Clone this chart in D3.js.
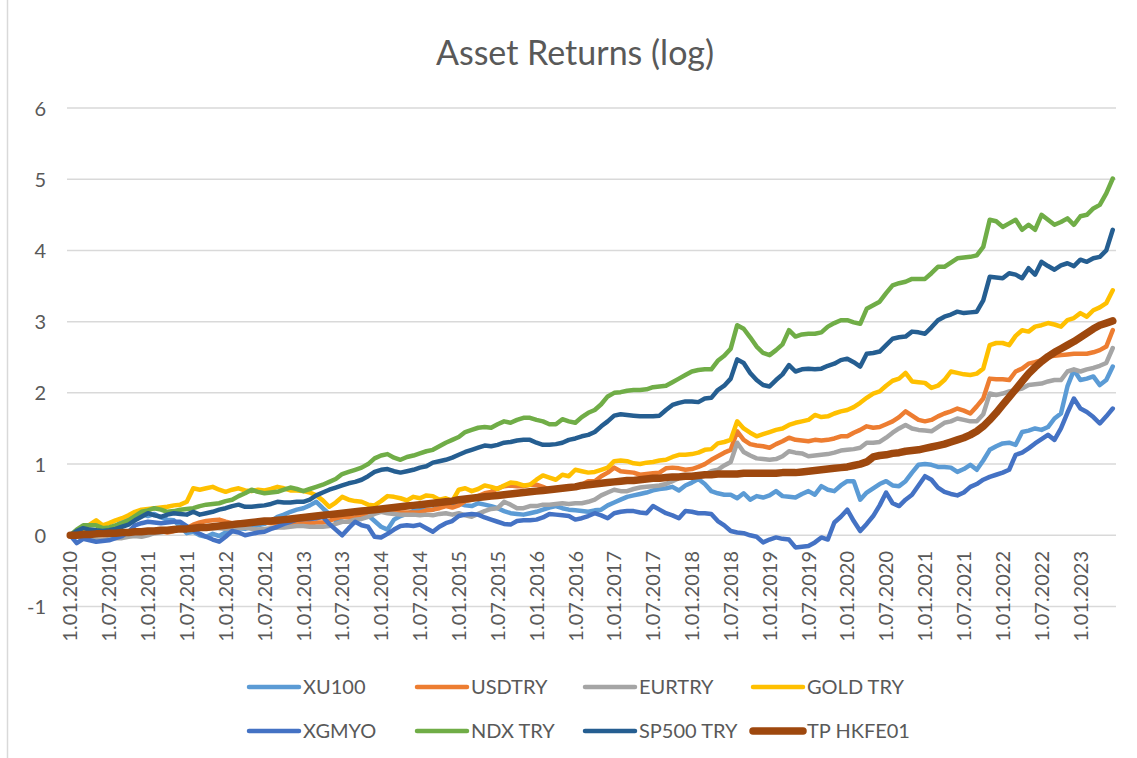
<!DOCTYPE html>
<html><head><meta charset="utf-8">
<script src="https://cdn.jsdelivr.net/npm/d3@7"></script>
<style>body{margin:0;background:#fff}svg{display:block}</style>
</head><body><svg id="c" width="1137" height="758"></svg>
<script>
// ---- data (monthly, Jan 2010 - Jun 2023) ----
const categories = d3.timeMonth.range(new Date(2010,0,1), new Date(2023,6,1));
const tickLabels = ["1.01.2010","1.07.2010","1.01.2011","1.07.2011","1.01.2012","1.07.2012","1.01.2013","1.07.2013","1.01.2014","1.07.2014","1.01.2015","1.07.2015","1.01.2016","1.07.2016","1.01.2017","1.07.2017","1.01.2018","1.07.2018","1.01.2019","1.07.2019","1.01.2020","1.07.2020","1.01.2021","1.07.2021","1.01.2022","1.07.2022","1.01.2023"];
const yTicks = [-1,0,1,2,3,4,5,6];
const seriesNames = ["XU100","USDTRY","EURTRY","GOLD TRY","XGMYO","NDX TRY","SP500 TRY","TP HKFE01"];

const xu100 = [
0,0.04,0.08,0.05,0.0,0.03,0.08,0.12,0.2,0.24,0.27,0.3,
0.27,0.3,0.25,0.22,0.21,0.12,0.03,0.05,0.0,-0.02,0.02,-0.01,
0.04,0.06,0.1,0.09,0.12,0.14,0.16,0.2,0.26,0.29,0.33,0.36,
0.38,0.42,0.47,0.38,0.3,0.21,0.25,0.28,0.23,0.25,0.28,0.2,
0.12,0.08,0.22,0.27,0.3,0.34,0.35,0.36,0.36,0.4,0.45,0.43,
0.45,0.42,0.41,0.45,0.43,0.41,0.38,0.34,0.31,0.3,0.29,0.31,
0.33,0.36,0.39,0.41,0.38,0.36,0.35,0.34,0.33,0.35,0.36,0.42,
0.46,0.5,0.54,0.56,0.58,0.6,0.63,0.65,0.66,0.68,0.63,0.7,
0.74,0.79,0.72,0.62,0.59,0.57,0.57,0.52,0.59,0.5,0.55,0.53,
0.56,0.62,0.55,0.54,0.53,0.58,0.62,0.57,0.69,0.64,0.62,0.7,
0.76,0.76,0.5,0.6,0.66,0.72,0.76,0.7,0.69,0.76,0.88,0.99,
1.0,0.99,0.96,0.96,0.95,0.89,0.93,0.99,0.92,1.05,1.2,1.25,
1.29,1.3,1.27,1.45,1.47,1.5,1.48,1.52,1.64,1.71,2.09,2.32,
2.18,2.2,2.23,2.11,2.18,2.37];
const usdtry = [
0,0.0,0.01,0.02,0.05,0.06,0.04,0.02,0.0,-0.01,0.01,0.04,
0.05,0.07,0.06,0.04,0.06,0.1,0.1,0.15,0.18,0.2,0.21,0.22,
0.19,0.17,0.18,0.17,0.18,0.18,0.18,0.17,0.17,0.17,0.17,0.17,
0.17,0.17,0.18,0.18,0.2,0.24,0.26,0.25,0.25,0.27,0.31,0.36,
0.38,0.36,0.34,0.32,0.32,0.32,0.32,0.35,0.36,0.38,0.41,0.39,
0.42,0.48,0.5,0.55,0.59,0.61,0.66,0.69,0.7,0.69,0.69,0.71,
0.71,0.68,0.64,0.64,0.66,0.69,0.69,0.71,0.76,0.76,0.83,0.88,
0.95,0.9,0.89,0.88,0.85,0.86,0.87,0.88,0.94,0.95,0.94,0.92,
0.93,0.96,1.0,1.06,1.11,1.16,1.2,1.46,1.34,1.28,1.26,1.25,
1.23,1.28,1.32,1.37,1.34,1.33,1.32,1.34,1.33,1.34,1.36,1.39,
1.39,1.44,1.48,1.53,1.51,1.52,1.56,1.6,1.66,1.74,1.68,1.62,
1.6,1.62,1.67,1.71,1.74,1.78,1.75,1.71,1.81,1.92,2.2,2.19,
2.19,2.18,2.3,2.34,2.41,2.43,2.46,2.51,2.52,2.53,2.54,2.55,
2.55,2.55,2.57,2.6,2.65,2.88];
const eurtry = [
0,-0.02,-0.03,-0.05,-0.06,-0.07,-0.05,-0.04,-0.04,-0.02,-0.01,-0.02,
0.0,0.03,0.04,0.06,0.07,0.08,0.09,0.1,0.12,0.11,0.1,0.1,
0.09,0.1,0.1,0.11,0.09,0.08,0.09,0.1,0.11,0.11,0.12,0.13,
0.13,0.12,0.12,0.12,0.13,0.16,0.19,0.19,0.22,0.23,0.26,0.3,
0.33,0.31,0.3,0.29,0.29,0.29,0.28,0.29,0.28,0.3,0.31,0.29,
0.31,0.28,0.26,0.3,0.34,0.37,0.38,0.47,0.43,0.38,0.38,0.41,
0.41,0.43,0.43,0.44,0.45,0.44,0.45,0.45,0.47,0.5,0.56,0.6,
0.64,0.62,0.62,0.65,0.67,0.68,0.69,0.7,0.72,0.76,0.8,0.81,
0.83,0.84,0.85,0.9,0.92,0.98,1.03,1.3,1.17,1.12,1.08,1.07,
1.06,1.07,1.11,1.18,1.16,1.15,1.11,1.12,1.13,1.14,1.16,1.19,
1.2,1.21,1.23,1.3,1.3,1.31,1.37,1.44,1.5,1.55,1.5,1.48,
1.47,1.46,1.52,1.58,1.6,1.64,1.62,1.6,1.6,1.7,1.99,1.97,
1.99,2.02,2.04,2.06,2.11,2.12,2.13,2.16,2.18,2.18,2.3,2.33,
2.3,2.33,2.35,2.38,2.42,2.63];
const goldtry = [
0,0.04,0.07,0.15,0.21,0.14,0.17,0.21,0.24,0.28,0.33,0.36,
0.37,0.38,0.39,0.4,0.42,0.43,0.47,0.66,0.64,0.66,0.68,0.64,
0.61,0.64,0.66,0.63,0.62,0.64,0.63,0.65,0.68,0.66,0.63,0.63,
0.62,0.6,0.56,0.49,0.4,0.46,0.54,0.5,0.48,0.47,0.43,0.42,
0.48,0.55,0.54,0.52,0.49,0.54,0.52,0.56,0.55,0.5,0.52,0.48,
0.64,0.66,0.62,0.65,0.7,0.68,0.65,0.7,0.74,0.73,0.7,0.71,
0.78,0.84,0.81,0.78,0.85,0.83,0.92,0.9,0.88,0.89,0.92,0.95,
1.04,1.05,1.04,1.01,1.0,1.02,1.03,1.05,1.06,1.1,1.13,1.13,
1.14,1.16,1.2,1.21,1.29,1.31,1.34,1.6,1.5,1.44,1.39,1.42,
1.45,1.48,1.5,1.55,1.58,1.6,1.62,1.69,1.66,1.67,1.71,1.74,
1.76,1.8,1.86,1.93,1.99,2.02,2.1,2.17,2.2,2.28,2.16,2.15,
2.14,2.07,2.1,2.18,2.3,2.28,2.26,2.25,2.27,2.34,2.67,2.7,
2.7,2.67,2.8,2.88,2.86,2.93,2.95,2.98,2.96,2.93,3.02,3.05,
3.12,3.07,3.16,3.2,3.26,3.44];
const xgmyo = [
0,-0.11,-0.05,-0.07,-0.09,-0.08,-0.07,-0.04,-0.01,0.05,0.14,0.17,
0.19,0.18,0.17,0.18,0.19,0.19,0.13,0.07,0.02,-0.02,-0.06,-0.09,
-0.02,0.06,0.04,0.0,0.02,0.04,0.05,0.09,0.12,0.16,0.19,0.22,
0.23,0.23,0.24,0.26,0.16,0.08,0.0,0.1,0.19,0.14,0.12,-0.02,
-0.03,0.02,0.08,0.13,0.14,0.13,0.15,0.1,0.05,0.12,0.17,0.2,
0.27,0.29,0.3,0.29,0.25,0.22,0.19,0.16,0.15,0.2,0.21,0.21,
0.22,0.25,0.3,0.29,0.28,0.27,0.22,0.24,0.27,0.31,0.28,0.24,
0.31,0.33,0.34,0.34,0.32,0.31,0.41,0.36,0.31,0.28,0.24,0.34,
0.33,0.31,0.31,0.3,0.2,0.14,0.06,0.04,0.03,0.0,-0.02,-0.1,
-0.06,-0.03,-0.05,-0.06,-0.17,-0.16,-0.15,-0.1,-0.03,-0.06,0.18,0.26,
0.36,0.2,0.06,0.16,0.27,0.42,0.6,0.45,0.41,0.5,0.57,0.7,
0.83,0.78,0.67,0.61,0.58,0.56,0.6,0.68,0.72,0.78,0.82,0.85,
0.88,0.92,1.13,1.16,1.22,1.29,1.35,1.41,1.34,1.5,1.72,1.92,
1.78,1.73,1.66,1.57,1.67,1.78];
const ndxtry = [
0,0.08,0.14,0.14,0.14,0.1,0.11,0.14,0.17,0.21,0.27,0.33,
0.35,0.38,0.36,0.33,0.34,0.36,0.37,0.38,0.41,0.43,0.44,0.45,
0.48,0.5,0.55,0.59,0.64,0.61,0.59,0.6,0.61,0.64,0.67,0.65,
0.62,0.65,0.68,0.71,0.75,0.79,0.86,0.89,0.92,0.95,1.0,1.08,
1.12,1.14,1.09,1.06,1.1,1.12,1.15,1.18,1.2,1.25,1.3,1.34,
1.38,1.45,1.48,1.51,1.52,1.51,1.56,1.6,1.58,1.62,1.65,1.65,
1.62,1.6,1.56,1.56,1.63,1.6,1.58,1.66,1.72,1.76,1.84,1.95,
2.0,2.01,2.03,2.04,2.04,2.05,2.08,2.09,2.1,2.15,2.2,2.25,
2.3,2.32,2.33,2.33,2.45,2.52,2.62,2.95,2.9,2.78,2.65,2.56,
2.53,2.6,2.68,2.88,2.79,2.82,2.83,2.83,2.85,2.93,2.98,3.02,
3.02,2.99,2.97,3.18,3.23,3.28,3.4,3.51,3.54,3.56,3.6,3.6,
3.6,3.68,3.77,3.77,3.83,3.89,3.9,3.91,3.93,4.05,4.43,4.41,
4.33,4.38,4.43,4.29,4.36,4.29,4.5,4.43,4.36,4.4,4.45,4.36,
4.48,4.5,4.59,4.64,4.8,5.01];
const sp500try = [
0,0.06,0.1,0.08,0.07,0.06,0.07,0.09,0.12,0.15,0.21,0.26,
0.31,0.28,0.26,0.29,0.31,0.3,0.29,0.33,0.29,0.31,0.33,0.36,
0.38,0.41,0.43,0.4,0.4,0.41,0.42,0.44,0.47,0.46,0.46,0.47,
0.47,0.5,0.56,0.6,0.64,0.67,0.7,0.73,0.75,0.78,0.83,0.89,
0.92,0.93,0.9,0.88,0.9,0.92,0.95,0.97,1.02,1.04,1.06,1.09,
1.13,1.17,1.2,1.23,1.26,1.25,1.27,1.3,1.31,1.33,1.34,1.34,
1.3,1.27,1.27,1.28,1.3,1.34,1.36,1.39,1.41,1.45,1.53,1.6,
1.68,1.7,1.69,1.68,1.67,1.67,1.67,1.68,1.76,1.83,1.86,1.88,
1.88,1.87,1.92,1.93,2.04,2.1,2.2,2.47,2.42,2.28,2.18,2.11,
2.09,2.18,2.26,2.39,2.3,2.33,2.34,2.33,2.34,2.38,2.41,2.46,
2.48,2.43,2.37,2.55,2.56,2.58,2.67,2.76,2.78,2.79,2.86,2.85,
2.83,2.92,3.02,3.07,3.1,3.14,3.12,3.13,3.14,3.3,3.63,3.62,
3.61,3.68,3.66,3.61,3.75,3.66,3.84,3.78,3.73,3.79,3.82,3.78,
3.87,3.84,3.89,3.91,4.0,4.29];
const tphkfe01 = [
0,0.0,0.01,0.01,0.02,0.02,0.03,0.03,0.04,0.04,0.05,0.05,
0.06,0.06,0.07,0.07,0.08,0.09,0.09,0.1,0.11,0.11,0.12,0.13,
0.14,0.15,0.16,0.17,0.18,0.19,0.2,0.2,0.21,0.22,0.23,0.24,
0.25,0.26,0.27,0.28,0.29,0.3,0.31,0.32,0.33,0.34,0.35,0.36,
0.37,0.38,0.39,0.4,0.41,0.42,0.43,0.44,0.45,0.46,0.47,0.48,
0.5,0.51,0.52,0.53,0.54,0.55,0.56,0.57,0.58,0.59,0.6,0.61,
0.62,0.63,0.64,0.65,0.66,0.67,0.68,0.7,0.71,0.72,0.73,0.74,
0.75,0.76,0.77,0.77,0.78,0.79,0.8,0.8,0.81,0.82,0.82,0.83,
0.83,0.84,0.85,0.85,0.86,0.86,0.86,0.86,0.87,0.87,0.87,0.87,
0.87,0.87,0.88,0.88,0.88,0.89,0.9,0.91,0.92,0.93,0.94,0.95,
0.96,0.98,1.0,1.03,1.1,1.12,1.13,1.15,1.16,1.18,1.19,1.2,
1.22,1.24,1.26,1.28,1.31,1.34,1.37,1.41,1.46,1.53,1.62,1.72,
1.83,1.94,2.05,2.16,2.27,2.36,2.44,2.51,2.57,2.62,2.67,2.72,
2.78,2.84,2.9,2.95,2.98,3.01];

const seriesValues = [xu100, usdtry, eurtry, goldtry, xgmyo, ndxtry, sp500try, tphkfe01];
const seriesColors = ["#5B9BD5","#ED7D31","#A5A5A5","#FFC000","#4472C4","#70AD47","#255E91","#9E480E"];
const seriesWidths = [4.5,4.5,4.5,4.5,4.5,4.5,4.5,7.5];

// ---- drawing ----
const FONT = "Lato, 'Open Sans', sans-serif";
const TXT = "#595959";
const svg = d3.select("#c");
svg.append("rect").attr("width",1137).attr("height",758).attr("fill","#fff");
svg.append("line").attr("x1",7.5).attr("x2",7.5).attr("y1",0).attr("y2",758).attr("stroke","#d9d9d9").attr("stroke-width",1.5);

const x = d3.scaleBand().domain(d3.range(categories.length)).range([67,1116]).padding(0);
const xc = i => x(i) + x.bandwidth()/2;
const y = d3.scaleLinear().domain([-1,6]).range([606.5,108]);

// gridlines
svg.append("g").selectAll("line").data(yTicks).join("line")
  .attr("x1",67).attr("x2",1116)
  .attr("y1",d=>y(d)).attr("y2",d=>y(d))
  .attr("stroke","#d9d9d9").attr("stroke-width",1.5);

// y axis labels
const yAxis = d3.axisLeft(y).tickValues(yTicks).tickSize(0).tickPadding(0).tickFormat(d=>String(d));
const yg = svg.append("g").attr("transform","translate(46,0)").call(yAxis);
yg.select(".domain").remove();
yg.selectAll("text").attr("font-family",FONT).attr("font-size",20).attr("fill",TXT).attr("dy","0.35em");

// x labels
const tickIdx = tickLabels.map((_,k)=>k*6);
svg.append("g").selectAll("text").data(tickIdx).join("text")
  .attr("transform",i=>`translate(${xc(i)},551) rotate(-90)`)
  .attr("text-anchor","end").attr("dy","0.36em")
  .attr("font-family",FONT).attr("font-size",20).attr("fill",TXT)
  .text((i,k)=>tickLabels[k]);

// lines
const line = d3.line().x((d,i)=>xc(i)).y(d=>y(d));
seriesValues.forEach((vals,s)=>{
  svg.append("path").datum(vals)
    .attr("d",line).attr("fill","none")
    .attr("stroke",seriesColors[s]).attr("stroke-width",seriesWidths[s])
    .attr("stroke-linejoin","round").attr("stroke-linecap","round");
});

// title
svg.append("text").attr("x",575).attr("y",65).attr("text-anchor","middle")
  .attr("font-family",FONT).attr("font-size",34).attr("fill",TXT).text("Asset Returns (log)");

// legend
const legX = [247,415,583,751], legY = [687,731];
seriesNames.forEach((name,s)=>{
  const cx = legX[s%4], cy = legY[Math.floor(s/4)];
  const g = svg.append("g");
  g.append("line").attr("x1",cx+2).attr("x2",cx+52).attr("y1",cy).attr("y2",cy)
    .attr("stroke",seriesColors[s]).attr("stroke-width",seriesWidths[s]).attr("stroke-linecap","round");
  g.append("text").attr("x",cx+56).attr("y",cy).attr("dy","0.35em")
    .attr("font-family",FONT).attr("font-size",20).attr("fill",TXT).text(name);
});
</script></body></html>
